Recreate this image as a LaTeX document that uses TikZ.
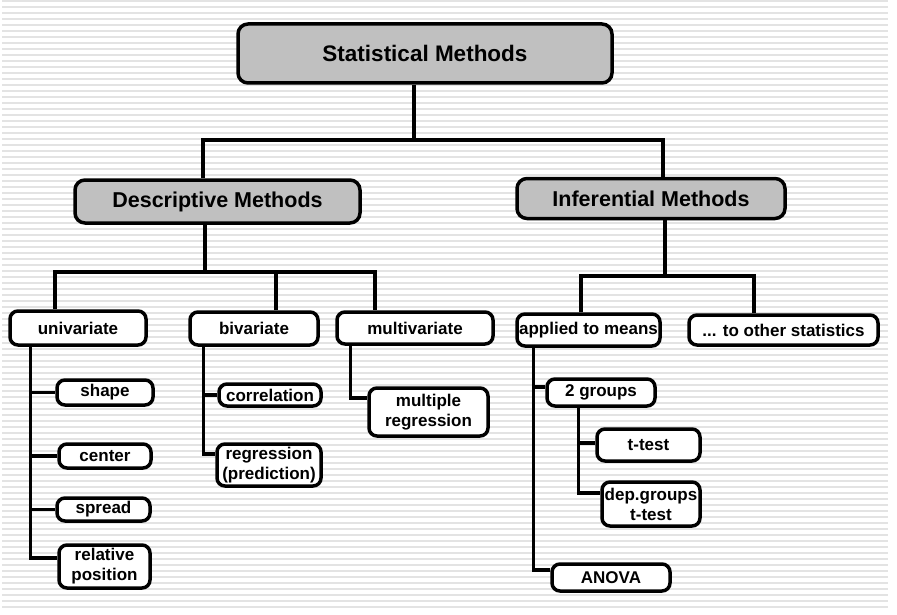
\documentclass[tikz,border=0pt]{standalone}
\usepackage{fontspec}
\setmainfont{Liberation Sans}
\definecolor{headgray}{HTML}{C0C0C0}
\definecolor{stripegray}{HTML}{E3E3E3}

\begin{document}
\begin{tikzpicture}
    [
        x=1pt, y=-1pt,
        stripe/.style = {draw=stripegray, line width=2pt},
        head/.style = {draw, shape=rectangle, rounded corners=10pt, line width=3.5pt, fill=headgray, inner sep=0pt, font=\fontsize{21.5}{26}\selectfont\bfseries},
        leaf/.style = {draw, shape=rectangle, rounded corners=8pt, line width=3.5pt, fill=white, inner sep=0pt, align=center, font=\fontsize{17}{20}\selectfont\bfseries},
        wire/.style = {line width=3.5pt},
    ]

    \useasboundingbox (0,0) rectangle (897,615);
    \foreach \y in {1,7,...,607}
        \draw[stripe] (2,\y) -- (888,\y);

    \node[head, minimum width=374, minimum height=59, font=\fontsize{22.5}{27}\selectfont\bfseries] (stat) at (425,53.5) {Statistical Methods};

    \node[head, minimum width=285, minimum height=43] (desc)  at (217.5,201.5) {Descriptive Methods};
    \node[head, minimum width=268, minimum height=40] (infer) at (651,198.5)   {Inferential Methods};

    \node[leaf, minimum width=136, minimum height=34] (univ)  at (78,328)    {univariate};
    \node[leaf, minimum width=128, minimum height=33] (biv)   at (254,328.5) {bivariate};
    \node[leaf, minimum width=156, minimum height=32] (multi) at (415,328)   {multivariate};

    \node[leaf, minimum width=96, minimum height=25] (shape)  at (105,392.5)  {shape};
    \node[leaf, minimum width=92, minimum height=24] (center) at (105,456)    {center};
    \node[leaf, minimum width=93, minimum height=23] (spread) at (103.5,509.5) {spread};
    \node[leaf, minimum width=91, minimum height=43] (relpos) at (104.5,566.5) {relative\\position};

    \node[leaf, minimum width=102, minimum height=22] (corr)    at (270,395)   {correlation};
    \node[leaf, minimum width=104, minimum height=42] (regr)    at (269,465)   {regression\\(prediction)};
    \node[leaf, minimum width=119, minimum height=48] (multreg) at (428.5,412) {multiple\\regression};

    \node[leaf, minimum width=143, minimum height=32] (applied) at (588.5,330) {applied to means};
    \node[leaf, minimum width=189, minimum height=30] (other)   at (783.5,330) {... to other statistics};
    \node[leaf, minimum width=108, minimum height=27] (two)     at (601,392.5) {2 groups};
    \node[leaf, minimum width=103, minimum height=32] (ttest)   at (648.5,445) {t-test};
    \node[leaf, minimum width=98, minimum height=44]  (dep)     at (651,504)   {dep.groups\\t-test};
    \node[leaf, minimum width=118, minimum height=27] (anova)   at (611,577.5) {ANOVA};

    \coordinate (top) at (414,140);
    \coordinate (dj)  at (205,272);
    \coordinate (ij)  at (665,276);

    \draw[wire] ([xshift=-11pt]stat.south) -- (top);
    \draw[wire] ([xshift=-14.5pt]desc.north) |- (top) -| ([xshift=12pt]infer.north);

    \draw[wire] ([xshift=-12.5pt]desc.south) -- (dj);
    \draw[wire] ([xshift=-23pt]univ.north) |- (dj) -| ([xshift=-40pt]multi.north);
    \draw[wire] ([xshift=22pt]biv.north) |- (dj);

    \draw[wire] ([xshift=14pt]infer.south) -- (ij);
    \draw[wire] ([xshift=-7.5pt]applied.north) |- (ij) -| ([xshift=-29.5pt]other.north);

    \draw[wire] ([xshift=22pt]univ.south west) |- ([yshift=8.5pt]relpos.west);
    \draw[wire] ([xshift=22pt]univ.south west) |- (shape);
    \draw[wire] ([xshift=22pt]univ.south west) |- (center);
    \draw[wire] ([xshift=22pt]univ.south west) |- (spread);

    \draw[wire] ([xshift=15pt]biv.south west) |- ([yshift=11pt]regr.west);
    \draw[wire] ([xshift=15pt]biv.south west) |- (corr);

    \draw[wire] ([xshift=15pt]multi.south west) |- ([yshift=14pt]multreg.west);

    \draw[wire] ([xshift=18pt]applied.south west) |- ([yshift=7.5pt]anova.west);
    \draw[wire] ([xshift=18pt]applied.south west) |- ([yshift=5.5pt]two.west);

    \draw[wire] ([xshift=33pt]two.south west) |- ([yshift=11pt]dep.west);
    \draw[wire] ([xshift=33pt]two.south west) |- ([yshift=2pt]ttest.west);

\end{tikzpicture}
\end{document}
